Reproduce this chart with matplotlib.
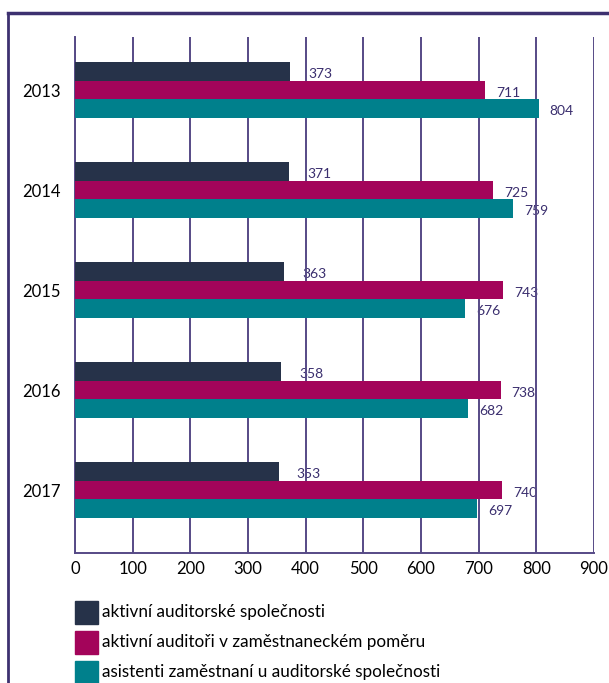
import matplotlib.pyplot as plt
from matplotlib.patches import Rectangle
from matplotlib.lines import Line2D

years = ['2013', '2014', '2015', '2016', '2017']
spolecnosti = [373, 371, 363, 358, 353]
auditori = [711, 725, 743, 738, 740]
asistenti = [804, 759, 676, 682, 697]

labels = ['aktivní auditorské společnosti',
          'aktivní auditoři v zaměstnaneckém poměru',
          'asistenti zaměstnaní u auditorské společnosti']
colors = ['#263249', '#a3045a', '#00808c']

plt.rcParams['font.family'] = ['Lato', 'DejaVu Sans']


def main():
    fig = plt.figure(figsize=(6.09, 6.83), dpi=100)
    ax = fig.add_axes([75 / 609, 1 - 553 / 683, 519 / 609, 516 / 683])

    h = 0.185
    series = [spolecnosti, auditori, asistenti]
    offsets = [-h, 0, h]
    pad = [13, 8, 8]
    for s, off, c, p in zip(series, offsets, colors, pad):
        ys = [i + off for i in range(len(years))]
        ax.barh(ys, s, height=h, color=c, zorder=3)
        # value labels sit under the grid lines, like in the original
        for y, v in zip(ys, s):
            ax.annotate(str(v), (v, y), xytext=(p, -2), textcoords='offset points',
                        va='center', ha='left', fontsize=10, color='#3a2e6e', zorder=1)

    ax.set_xlim(0, 900)
    ax.set_ylim(4.63, -0.53)
    ax.set_xticks(range(0, 901, 100))
    ax.set_yticks(range(len(years)))
    ax.set_yticklabels(years)
    ax.tick_params(length=0, labelsize=12, colors='black')
    ax.tick_params(axis='x', pad=6)
    ax.tick_params(axis='y', pad=10)
    ax.grid(axis='x', color='#564a86', linewidth=1.4, zorder=2)
    ax.set_axisbelow(False)
    for b in ax.patches:
        b.set_zorder(3)
    for sp in ['top', 'right']:
        ax.spines[sp].set_visible(False)
    ax.spines['left'].set_color('#564a86')
    ax.spines['bottom'].set_color('#564a86')
    ax.spines['left'].set_linewidth(1.4)
    ax.spines['bottom'].set_linewidth(1.4)

    # legend
    for i, (lab, c) in enumerate(zip(labels, colors)):
        top = 601 + i * 30
        fig.patches.append(Rectangle((75 / 609, 1 - (top + 23) / 683), 23 / 609, 23 / 683,
                                     transform=fig.transFigure, color=c))
        fig.text(102 / 609, 1 - (top + 11) / 683, lab, va='center', ha='left',
                 fontsize=12.3, color='black')

    # frame
    fig.lines.append(Line2D([8 / 609, 8 / 609], [0, 1 - 13 / 683], transform=fig.transFigure,
                            color='#3d3170', linewidth=2))
    fig.lines.append(Line2D([8 / 609, 1], [1 - 13 / 683, 1 - 13 / 683], transform=fig.transFigure,
                            color='#3d3170', linewidth=2.5))

    fig.savefig('out.png', dpi=100)


if __name__ == '__main__':
    main()
